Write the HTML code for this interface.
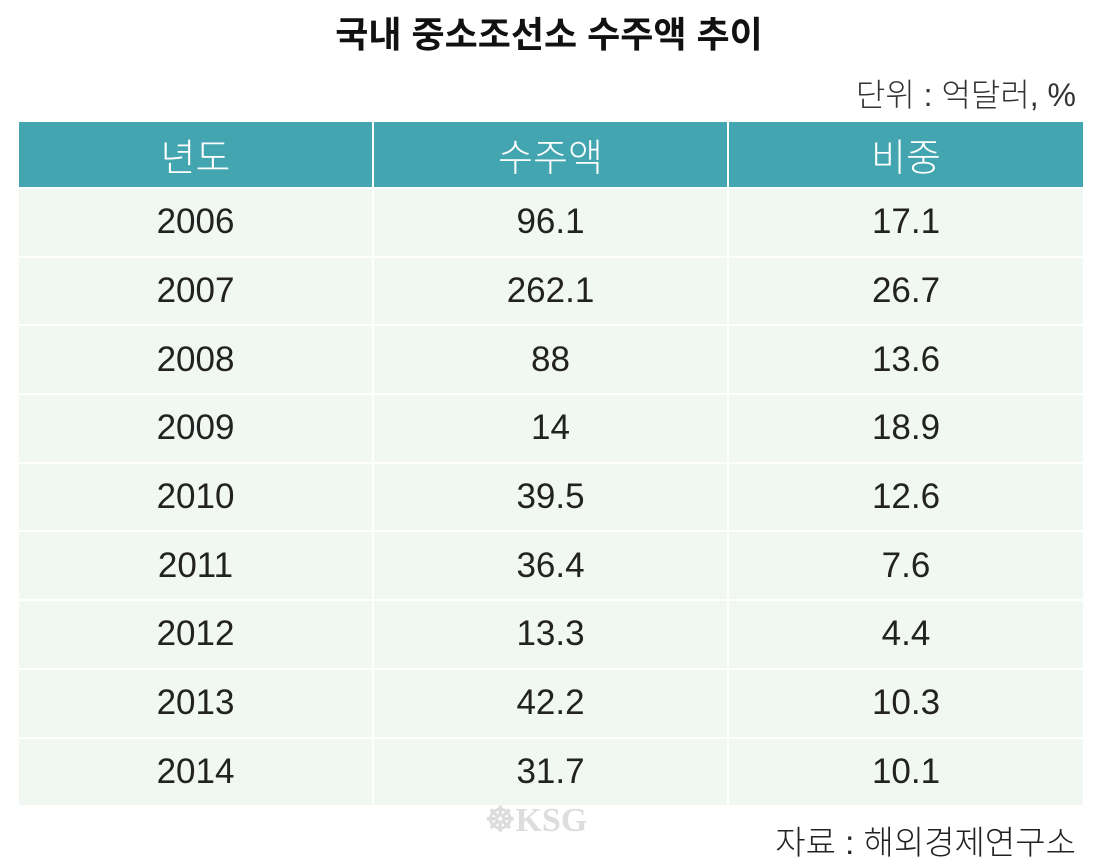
<!DOCTYPE html>
<html><head><meta charset="utf-8"><style>
html,body{margin:0;padding:0;background:#fff;width:1098px;height:868px;overflow:hidden;position:relative;font-family:"Liberation Sans","Noto Sans CJK KR",sans-serif;}
#title{position:absolute;left:0;width:1098px;top:6px;text-align:center;font-size:36px;font-weight:bold;color:#111;}
#unit{position:absolute;right:22px;top:70px;font-size:32px;color:#333;font-weight:300;}
table{position:absolute;left:17px;top:120px;width:1066px;border-collapse:collapse;table-layout:fixed;}
td,th{border:2px solid #fff;text-align:center;font-weight:300;color:#222;font-size:35px;padding:0;}
th{background:#42a5b0;color:#fff;height:65px;font-size:38px;}
td{background:#f1f7f1;height:66.7px;}
#wm{position:absolute;left:485px;top:800px;font-size:34px;font-weight:bold;color:#ddd;font-family:"Liberation Serif",serif;}
#src{position:absolute;right:22px;top:816px;font-size:33px;color:#222;font-weight:300;}
</style></head><body>
<div id="title">국내 중소조선소 수주액 추이</div>
<div id="unit">단위 : 억달러, %</div>
<table>
<colgroup><col style="width:355px"><col style="width:355px"><col style="width:356px"></colgroup>
<thead><tr><th>년도</th><th>수주액</th><th>비중</th></tr></thead>
<tbody id="tb"></tbody>
</table>
<div id="wm">☸KSG</div>
<div id="src">자료 : 해외경제연구소</div>
<script>
const years=["2006","2007","2008","2009","2010","2011","2012","2013","2014"];
const amounts=["96.1","262.1","88","14","39.5","36.4","13.3","42.2","31.7"];
const shares=["17.1","26.7","13.6","18.9","12.6","7.6","4.4","10.3","10.1"];
const tb=document.getElementById('tb');
years.forEach((y,i)=>{
  const tr=document.createElement('tr');
  
  
  [y,amounts[i],shares[i]].forEach((v,j)=>{
    const td=document.createElement('td');
    td.textContent=v;
    
    
    tr.appendChild(td);
  });
  tb.appendChild(tr);
});
</script>
</body></html>
